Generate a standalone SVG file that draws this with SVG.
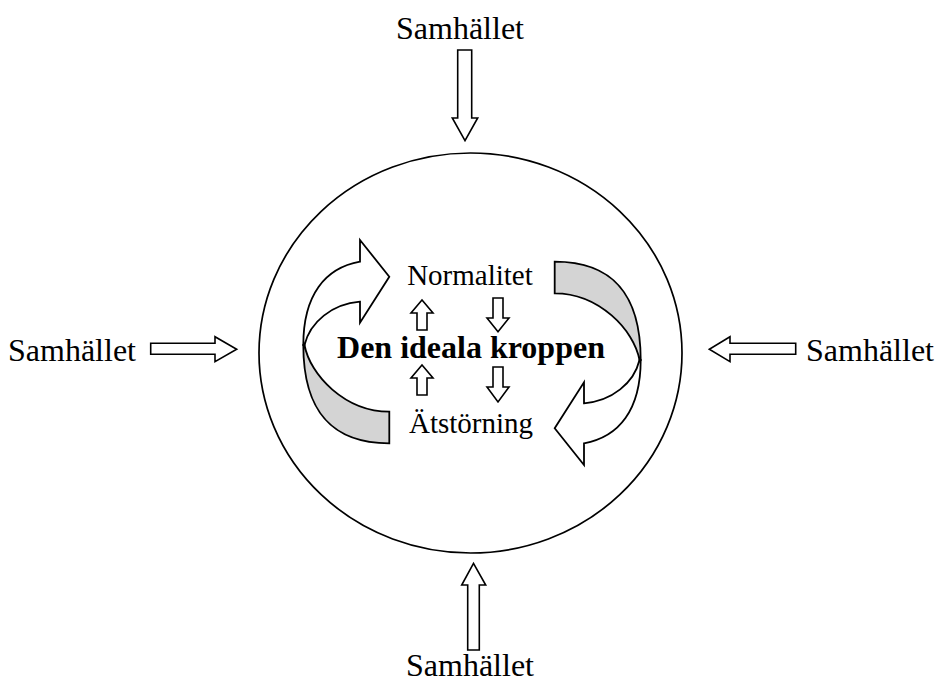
<svg xmlns="http://www.w3.org/2000/svg" width="936" height="686" viewBox="0 0 936 686">
<style>
.t{font-family:"Liberation Serif","Times New Roman",serif;fill:#000}
.s{font-size:32px}
.m{font-size:29px}
.b{font-size:32px;font-weight:bold}
.blk{fill:#fff;stroke:#000;stroke-width:1.6;stroke-linejoin:miter}
.w{fill:#fff;stroke:#000;stroke-width:1.8;stroke-linejoin:miter}
.g{fill:#d4d4d4;stroke:#000;stroke-width:1.8;stroke-linejoin:miter}
</style>
<rect width="936" height="686" fill="#fff"/>
<g id="circle">
<ellipse cx="470.5" cy="353" rx="211.5" ry="200" fill="none" stroke="#000" stroke-width="1.7"/>
</g>
<g id="samhallet-top"><text class="t s" x="460" y="39" text-anchor="middle">Samhället</text></g>
<g id="samhallet-left"><text class="t s" x="8" y="361">Samhället</text></g>
<g id="samhallet-right"><text class="t s" x="806" y="361">Samhället</text></g>
<g id="samhallet-bottom"><text class="t s" x="470" y="676" text-anchor="middle">Samhället</text></g>
<g id="normalitet"><text class="t m" x="470" y="285" text-anchor="middle">Normalitet</text></g>
<g id="den-ideala-kroppen"><text class="t b" x="471" y="358" text-anchor="middle">Den ideala kroppen</text></g>
<g id="atstorning"><text class="t m" x="471" y="433" text-anchor="middle">Ätstörning</text></g>
<g id="connectors">
<path class="blk" d="M457.7,50 L471.7,50 L471.7,118 L477.7,118 L465,140.7 L452.3,118 L457.7,118 Z"/>
<path class="blk" d="M467.7,650 L479.3,650 L479.3,585 L485.7,585 L473.5,563.3 L461.7,585 L467.7,585 Z"/>
<path class="blk" d="M150.7,343.3 L215,343.3 L215,336.7 L236.7,349.3 L215,361.7 L215,354.3 L150.7,354.3 Z"/>
<path class="blk" d="M795.7,343.3 L730,343.3 L730,336.7 L709.3,349.3 L730,361.7 L730,354.3 L795.7,354.3 Z"/>
<path class="blk" d="M417,330 L427,330 L427,313 L433,313 L422,300 L411,313 L417,313 Z"/>
<path class="blk" d="M493,298 L503,298 L503,318 L509,318 L498,331.7 L487,318 L493,318 Z"/>
<path class="blk" d="M417,395 L427,395 L427,378 L433,378 L422,365 L411,378 L417,378 Z"/>
<path class="blk" d="M493,367 L503,367 L503,387 L509,387 L498,402 L487,387 L493,387 Z"/>
<g id="cycle-left">
<path class="g" d="M303.3,345 C303.3,415 335,443.3 389.3,443.3 L389.3,411.7 C345,411.7 310,375 304.5,345 Z"/>
<path class="w" d="M360,261.7 L360,240 L389.3,276.7 L360,322.7 L360,301.7 C332,304 310,322 304.5,345 L303.3,345 C303.3,295 325,268 360,261.7 Z"/>
</g>
<g id="cycle-right" transform="rotate(180 472 352.5)">
<path class="g" d="M303.3,345 C303.3,415 335,443.3 389.3,443.3 L389.3,411.7 C345,411.7 310,375 304.5,345 Z"/>
<path class="w" d="M360,261.7 L360,240 L389.3,276.7 L360,322.7 L360,301.7 C332,304 310,322 304.5,345 L303.3,345 C303.3,295 325,268 360,261.7 Z"/>
</g>
</g>
</svg>
